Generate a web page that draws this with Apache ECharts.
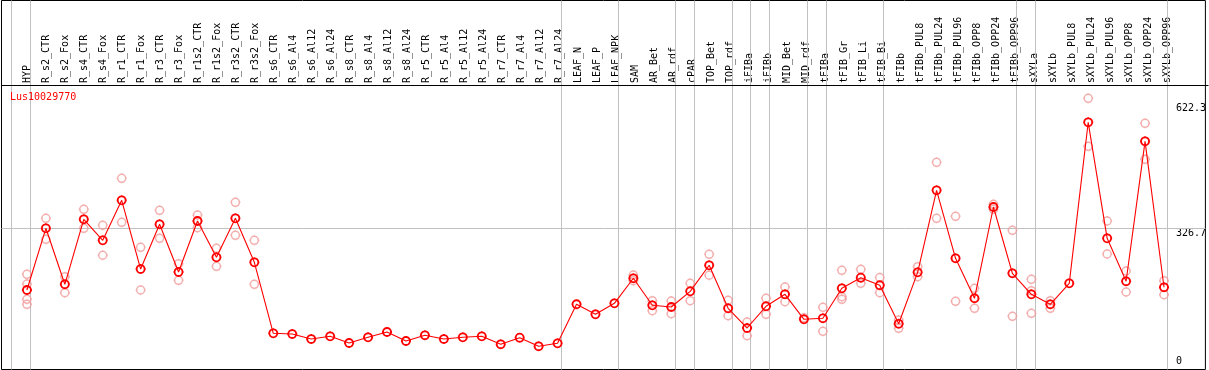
<!DOCTYPE html>
<html>
<head>
<meta charset="utf-8">
<script src="https://cdn.jsdelivr.net/npm/echarts@6/dist/echarts.min.js"></script>
<style>
html,body{margin:0;padding:0;background:#fff;}
#chart{width:1209px;height:370px;}
</style>
</head>
<body>
<div id="chart"></div>
<script>
const geneName = 'Lus10029770';
const categories = ['HYP','R_s2_CTR','R_s2_Fox','R_s4_CTR','R_s4_Fox','R_r1_CTR','R_r1_Fox','R_r3_CTR','R_r3_Fox','R_r1s2_CTR','R_r1s2_Fox','R_r3s2_CTR','R_r3s2_Fox','R_s6_CTR','R_s6_Al4','R_s6_Al12','R_s6_Al24','R_s8_CTR','R_s8_Al4','R_s8_Al12','R_s8_Al24','R_r5_CTR','R_r5_Al4','R_r5_Al12','R_r5_Al24','R_r7_CTR','R_r7_Al4','R_r7_Al12','R_r7_Al24','LEAF_N','LEAF_P','LEAF_NPK','SAM','AR_Bet','AR_rdf','cPAR','TOP_Bet','TOP_rdf','iFIBa','iFIBb','MID_Bet','MID_rdf','tFIBa','tFIB_Gr','tFIB_Li','tFIB_Bi','tFIBb','tFIBb_PUL8','tFIBb_PUL24','tFIBb_PUL96','tFIBb_OPP8','tFIBb_OPP24','tFIBb_OPP96','sXYLa','sXYLb','sXYLb_PUL8','sXYLb_PUL24','sXYLb_PUL96','sXYLb_OPP8','sXYLb_OPP24','sXYLb_OPP96'];
const meanValues = [180.8,326.7,194.3,348.0,298.3,392.9,230.4,336.2,223.4,344.0,258.1,350.3,246.3,78.4,76.7,64.9,71.3,55.5,68.9,81.5,60.2,73.7,64.9,68.9,71.3,52.4,68.0,47.7,54.7,147.2,123.3,149.3,208.5,144.6,140.6,177.7,239.2,137.5,90.9,142.2,170.6,111.5,113.9,184.8,209.9,192.1,100.9,222.6,416.6,255.8,161.2,377.1,220.3,170.6,147.0,196.6,577.4,303.0,201.4,532.4,187.2];
const replicateValues = [
  [217.9,195.0,158.8,147.0],[350.3,300.7],[212.2,174.4],[371.6,326.7],[333.8,262.9],
  [444.9,340.9],[281.8,180.8],[369.3,303.0],[243.0,203.7],[358.2,328.1],
  [279.4,236.8],[388.2,310.1],[298.3,194.3],[],[],
  [],[],[],[],[],
  [],[],[],[],[],
  [],[],[],[],[],
  [],[],[216.3,202.8],[155.5,131.8],[154.8,124.7],
  [196.6,155.5],[265.2,215.6],[156.4,120.0],[105.1,72.7],[161.2,123.3],
  [187.9,153.1],[115.3],[139.9,83.1],[227.4,164.9,158.8],[229.7,196.6],
  [210.3,174.4],[109.8,90.2],[235.9,212.2],[482.8,350.3],[355.1,154.1],
  [184.8,137.5],[383.4,371.6],[322.0,118.6],[206.1,179.1,125.7],[155.5,137.5],
  [],[634.1,520.6],[344.0,265.9],[225.7,176.1],[575.0,489.9],
  [202.8,169.7]
];
const groupEnds = [-1,0,28,31,34,35,37,38,39,41,42,45,52,53,60];
const yTickValues = [0, 326.7, 622.3];
const yTickLabels = ['0', '326.7', '622.3'];
const refLineValue = 326.7;

const FONT = 'DejaVu Sans Mono';
const markerPath = 'path://M0,-4.9L0,-3.9M0,3.9L0,4.9M-4.9,0L-3.9,0M3.9,0L4.9,0M3.9,0A3.9,3.9,0,1,1,-3.9,0A3.9,3.9,0,1,1,3.9,0';

const meanData = meanValues.map((v, i) => [i, v]);
const repData = [];
replicateValues.forEach((arr, i) => arr.forEach(v => repData.push([i, v])));
const sepOffset = 0.18;
const sepData = groupEnds.map(g => [g + sepOffset, refLineValue]);
const labelFor = v => yTickLabels[yTickValues.indexOf(v)];

const chart = echarts.init(document.getElementById('chart'), null, { renderer: 'canvas' });
chart.setOption({
  animation: false,
  backgroundColor: '#fff',
  title: {
    text: geneName, left: 8, top: 90, padding: 2,
    textStyle: { color: '#ff0000', fontSize: 10, fontWeight: 'normal', fontFamily: FONT }
  },
  grid: [
    { left: 1.5, right: 0.5, top: 0.5, bottom: 0.5, show: true, borderColor: '#000', borderWidth: 1, backgroundColor: 'transparent' },
    { left: 17.5, width: 1159, top: 85, height: 1, show: false }
  ],
  xAxis: [
    { type: 'value', gridIndex: 0, min: -1.3421, max: 62.184, show: false },
    { type: 'category', gridIndex: 1, position: 'top', data: categories, boundaryGap: true,
      axisLine: { show: false }, axisTick: { show: false }, splitLine: { show: false },
      axisLabel: { interval: 0, rotate: 90, margin: 2, fontSize: 10, fontFamily: FONT, color: '#000' } }
  ],
  yAxis: [
    { type: 'value', gridIndex: 0, position: 'right', min: -7.21, max: 865.4,
      axisLine: { show: false }, axisTick: { show: false }, splitLine: { show: false },
      axisLabel: { inside: true, customValues: yTickValues.slice(1), align: 'left', verticalAlign: 'top', margin: 29.5,
        fontSize: 10, fontFamily: FONT, color: '#000', formatter: v => labelFor(v) } },
    { type: 'value', gridIndex: 0, position: 'right', min: -7.21, max: 865.4,
      axisLine: { show: false }, axisTick: { show: false }, splitLine: { show: false },
      axisLabel: { inside: true, customValues: yTickValues.slice(0, 1), align: 'left', verticalAlign: 'bottom', margin: 29.5,
        fontSize: 10, fontFamily: FONT, color: '#000', formatter: v => labelFor(v) } },
    { type: 'value', gridIndex: 1, show: false }
  ],
  graphic: [
    { type: 'line', shape: { x1: 1.5, y1: 85.5, x2: 1208.5, y2: 85.5 }, style: { stroke: '#000', lineWidth: 1 }, z: 10 }
  ],
  series: [
    {
      type: 'custom', xAxisIndex: 0, yAxisIndex: 0, data: sepData, silent: true, z: 1, clip: false,
      renderItem: (params, api) => {
        const cs = params.coordSys;
        const x = Math.round(api.coord([api.value(0), api.value(1)])[0]) + 0.5;
        const yRef = Math.round(api.coord([api.value(0), api.value(1)])[1]) + 0.5;
        const children = [{ type: 'line', shape: { x1: x, y1: cs.y, x2: x, y2: cs.y + cs.height },
          style: { stroke: '#c0c0c0', lineWidth: 1 } }];
        if (params.dataIndex === 0) {
          children.push({ type: 'line', shape: { x1: cs.x, y1: yRef, x2: cs.x + cs.width, y2: yRef },
            style: { stroke: '#c0c0c0', lineWidth: 1 } });
        }
        return { type: 'group', children };
      }
    },
    {
      type: 'scatter', xAxisIndex: 0, yAxisIndex: 0, data: repData, symbol: markerPath, symbolSize: 10,
      itemStyle: { color: 'rgba(0,0,0,0)', borderColor: '#f09a9a', borderWidth: 1.5 },
      silent: true, z: 3
    },
    {
      type: 'line', xAxisIndex: 0, yAxisIndex: 0, data: meanData, symbol: markerPath, symbolSize: 10,
      showAllSymbol: true,
      lineStyle: { color: '#ff0000', width: 1.1 },
      itemStyle: { color: 'rgba(0,0,0,0)', borderColor: '#ff0000', borderWidth: 1.8 },
      silent: true, z: 5
    }
  ]
});
</script>
</body>
</html>
